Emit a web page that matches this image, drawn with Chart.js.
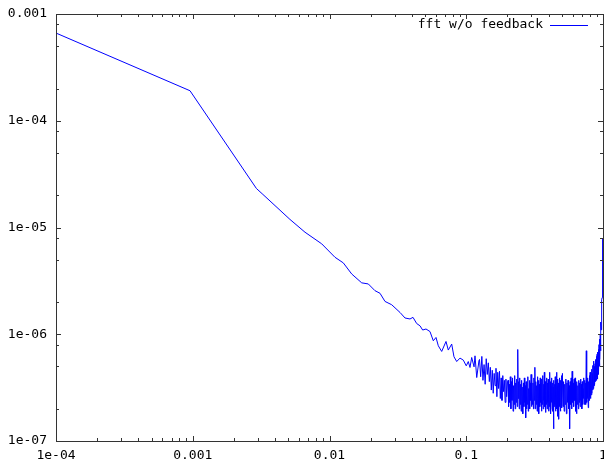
<!DOCTYPE html>
<html>
<head>
<meta charset="utf-8">
<script src="https://cdn.jsdelivr.net/npm/chart.js@4"></script>
<style>
  html, body { margin: 0; padding: 0; background: #fff; }
  canvas { display: block; }
</style>
</head>
<body>
<canvas id="c" width="604" height="464"></canvas>
<script>
// ---- data ----
const seriesLabel = 'fft w/o feedback';

const lowFreq = [1e-4, 9.55e-4, 2.92e-3, 3.26e-3, 5.14e-3, 6.62e-3, 8.77e-3, 0.01097, 0.01262, 0.01453,
  0.0172, 0.01922, 0.0215, 0.0234, 0.02546, 0.0285, 0.03279, 0.03566, 0.03879, 0.04079,
  0.04341, 0.04589, 0.04802, 0.05077, 0.05431, 0.05741, 0.0601, 0.06246, 0.06614, 0.07111,
  0.07391, 0.07827, 0.08136, 0.08516, 0.09003, 0.0952, 0.1, 0.1035, 0.1065, 0.1096,
  0.114, 0.1159, 0.1193, 0.124];
const lowAmp = [6.63e-4, 1.91e-4, 2.32e-5, 2.04e-5, 1.19e-5, 9.03e-6, 7.03e-6, 5.26e-6, 4.66e-6, 3.67e-6,
  3.03e-6, 2.96e-6, 2.56e-6, 2.42e-6, 2.03e-6, 1.89e-6, 1.60e-6, 1.42e-6, 1.39e-6, 1.44e-6,
  1.26e-6, 1.20e-6, 1.095e-6, 1.12e-6, 1.06e-6, 8.69e-7, 9.33e-7, 7.80e-7, 6.90e-7, 8.56e-7,
  7.11e-7, 8.09e-7, 6.15e-7, 5.55e-7, 5.98e-7, 5.72e-7, 5.06e-7, 5.55e-7, 4.88e-7, 6.06e-7,
  4.95e-7, 6.28e-7, 3.93e-7, 5.72e-7];

const noiseFreqA = [0.125, 0.1275, 0.13, 0.1325, 0.135, 0.1375, 0.14, 0.1425, 0.145, 0.1475,
  0.15, 0.1525, 0.155, 0.1575, 0.16, 0.1625, 0.165, 0.1675, 0.17, 0.1725,
  0.175, 0.1775, 0.18, 0.1825, 0.185, 0.1875, 0.19, 0.1925, 0.195, 0.1975, 0.2];
const noiseAmpA = [5.8e-7, 4.0e-7, 6.2e-7, 3.7e-7, 5.2e-7, 3.4e-7, 5.9e-7, 4.2e-7, 5.4e-7, 3.6e-7,
  4.9e-7, 3.0e-7, 4.6e-7, 2.8e-7, 4.3e-7, 3.3e-7, 4.8e-7, 2.6e-7, 4.4e-7, 3.1e-7,
  4.5e-7, 2.5e-7, 3.9e-7, 2.4e-7, 4.1e-7, 2.9e-7, 3.7e-7, 2.3e-7, 3.8e-7, 2.6e-7, 3.5e-7];

const noiseFreqB = [0.202, 0.204, 0.206, 0.208, 0.21, 0.212, 0.214, 0.216, 0.218, 0.22,
  0.222, 0.224, 0.226, 0.228, 0.23, 0.232, 0.234, 0.236, 0.238, 0.24,
  0.242, 0.244, 0.246, 0.248, 0.25, 0.252, 0.254, 0.256, 0.258, 0.26,
  0.262, 0.264, 0.266, 0.268, 0.27, 0.272, 0.274, 0.276, 0.278, 0.28,
  0.282, 0.284, 0.286, 0.288, 0.29, 0.292, 0.294, 0.296, 0.298, 0.3];
const noiseAmpB = [3.7e-7, 2.1e-7, 3.4e-7, 2.3e-7, 4.0e-7, 2.0e-7, 3.6e-7, 2.4e-7, 3.9e-7, 1.9e-7,
  3.3e-7, 2.2e-7, 4.1e-7, 2.0e-7, 3.5e-7, 2.3e-7, 3.8e-7, 2.1e-7, 7.2e-7, 2.5e-7,
  3.6e-7, 2.0e-7, 3.9e-7, 2.2e-7, 3.4e-7, 1.9e-7, 3.7e-7, 2.4e-7, 3.2e-7, 1.8e-7,
  3.5e-7, 2.1e-7, 3.9e-7, 2.3e-7, 3.3e-7, 1.65e-7, 3.6e-7, 2.0e-7, 3.4e-7, 2.2e-7,
  4.0e-7, 1.9e-7, 3.1e-7, 2.3e-7, 3.7e-7, 2.0e-7, 3.5e-7, 2.4e-7, 4.2e-7, 2.1e-7];

const noiseFreqC = [0.3025, 0.305, 0.3075, 0.31, 0.3125, 0.315, 0.3175, 0.32, 0.3225, 0.325,
  0.3275, 0.33, 0.3325, 0.335, 0.3375, 0.34, 0.3425, 0.345, 0.3475, 0.35,
  0.3525, 0.355, 0.3575, 0.36, 0.3625, 0.365, 0.3675, 0.37, 0.3725, 0.375,
  0.3775, 0.38, 0.3825, 0.385, 0.3875, 0.39, 0.3925, 0.395, 0.3975, 0.4,
  0.4025, 0.405, 0.4075, 0.41, 0.4125, 0.415, 0.4175, 0.42, 0.4225, 0.425,
  0.4275, 0.43, 0.4325, 0.435, 0.4375, 0.44, 0.4425, 0.445, 0.4475, 0.45,
  0.4525, 0.455, 0.4575, 0.46, 0.4625, 0.465, 0.4675, 0.47, 0.4725, 0.475,
  0.4775, 0.48, 0.4825, 0.485, 0.4875, 0.49, 0.4925, 0.495, 0.4975, 0.5];
const noiseAmpC = [3.8e-7, 2.2e-7, 3.5e-7, 2.0e-7, 3.9e-7, 2.4e-7, 4.9e-7, 2.0e-7, 3.6e-7, 2.2e-7,
  3.3e-7, 1.9e-7, 4.0e-7, 2.5e-7, 3.7e-7, 1.8e-7, 3.4e-7, 2.1e-7, 3.9e-7, 2.3e-7,
  3.5e-7, 1.9e-7, 3.8e-7, 2.2e-7, 4.1e-7, 2.0e-7, 3.4e-7, 2.4e-7, 4.4e-7, 2.1e-7,
  3.6e-7, 1.85e-7, 3.3e-7, 2.2e-7, 3.9e-7, 2.0e-7, 3.5e-7, 2.3e-7, 3.8e-7, 1.9e-7,
  3.4e-7, 2.1e-7, 4.4e-7, 2.2e-7, 3.6e-7, 1.8e-7, 3.3e-7, 2.3e-7, 3.9e-7, 2.0e-7,
  3.5e-7, 1.9e-7, 3.2e-7, 1.3e-7, 3.7e-7, 2.1e-7, 3.4e-7, 2.2e-7, 4.0e-7, 1.9e-7,
  3.6e-7, 2.3e-7, 4.4e-7, 2.0e-7, 3.3e-7, 1.7e-7, 3.8e-7, 2.2e-7, 3.5e-7, 1.6e-7,
  3.4e-7, 2.1e-7, 3.9e-7, 2.3e-7, 3.6e-7, 1.9e-7, 3.7e-7, 2.2e-7, 4.1e-7, 2.05e-7];

const noiseFreqD = [0.505, 0.51, 0.515, 0.52, 0.525, 0.53, 0.535, 0.54, 0.545, 0.55,
  0.555, 0.56, 0.565, 0.57, 0.575, 0.58, 0.585, 0.59, 0.595, 0.6,
  0.605, 0.61, 0.615, 0.62, 0.625, 0.63, 0.635, 0.64, 0.645, 0.65,
  0.655, 0.66, 0.665, 0.67, 0.675, 0.68, 0.685, 0.69, 0.695, 0.7,
  0.705, 0.71, 0.715, 0.72, 0.725, 0.73, 0.735, 0.74, 0.745, 0.75,
  0.755, 0.76, 0.765, 0.77, 0.775, 0.78, 0.785, 0.79, 0.795, 0.8,
  0.805, 0.81, 0.815, 0.82, 0.825, 0.83, 0.835, 0.84, 0.845, 0.85,
  0.855, 0.86, 0.865, 0.87, 0.875, 0.88, 0.885, 0.89, 0.895, 0.9];
const noiseAmpD = [4.3e-7, 2.1e-7, 3.6e-7, 1.9e-7, 3.4e-7, 2.2e-7, 3.8e-7, 1.8e-7, 3.5e-7, 2.3e-7,
  3.7e-7, 2.0e-7, 3.3e-7, 1.3e-7, 3.6e-7, 2.2e-7, 3.9e-7, 2.0e-7, 4.5e-7, 2.3e-7,
  3.5e-7, 2.1e-7, 3.8e-7, 2.4e-7, 3.9e-7, 1.9e-7, 3.4e-7, 1.8e-7, 3.6e-7, 2.2e-7,
  3.3e-7, 2.0e-7, 3.7e-7, 2.3e-7, 3.5e-7, 2.1e-7, 3.8e-7, 2.4e-7, 3.4e-7, 2.0e-7,
  3.6e-7, 2.2e-7, 3.1e-7, 2.5e-7, 3.9e-7, 2.2e-7, 3.7e-7, 2.4e-7, 3.5e-7, 2.2e-7,
  7.0e-7, 2.3e-7, 3.8e-7, 2.5e-7, 3.9e-7, 2.05e-7, 3.6e-7, 2.4e-7, 4.1e-7, 2.6e-7,
  4.4e-7, 2.5e-7, 4.0e-7, 2.7e-7, 4.7e-7, 2.8e-7, 4.3e-7, 3.0e-7, 5.1e-7, 3.1e-7,
  5.6e-7, 3.3e-7, 5.0e-7, 3.4e-7, 5.3e-7, 3.6e-7, 5.8e-7, 3.7e-7, 6.2e-7, 4.0e-7];

const highFreq = [0.905, 0.91, 0.915, 0.92, 0.925, 0.93, 0.935, 0.94, 0.945, 0.95,
  0.955, 0.96, 0.965, 0.97, 0.975, 0.98, 0.985, 0.99, 0.995];
const highAmp  = [6.5e-7, 3.8e-7, 6.8e-7, 4.2e-7, 7.2e-7, 4.5e-7, 8.0e-7, 5.0e-7, 9.0e-7, 5.8e-7,
  1.0e-6, 7.0e-7, 1.3e-6, 1.1e-6, 1.8e-6, 2.1e-6, 2.2e-6, 4.0e-6, 7.9e-6];

const xTickValues = [1e-4, 1e-3, 1e-2, 1e-1, 1];
const xTickLabels = ['1e-04', '0.001', '0.01', '0.1', '1'];
const yTickValues = [1e-7, 1e-6, 1e-5, 1e-4, 1e-3];
const yTickLabels = ['1e-07', '1e-06', '1e-05', '1e-04', '0.001'];
const xMinorMult = [2, 3, 4, 5, 6, 7, 8, 9];
const yMinorMult = [2, 5, 8];

// ---- build points ----
const freqs = [].concat(lowFreq, noiseFreqA, noiseFreqB, noiseFreqC, noiseFreqD, highFreq);
const amps  = [].concat(lowAmp, noiseAmpA, noiseAmpB, noiseAmpC, noiseAmpD, highAmp);
const points = freqs.map((f, i) => ({ x: f, y: amps[i] }));

const FONT = { family: '"DejaVu Sans Mono", "Liberation Mono", monospace', size: 13 };
const AXIS_COLOR = '#333';
const LINE_COLOR = '#0000ff';

const framePlugin = {
  id: 'frame',
  afterDraw(chart) {
    const { ctx, chartArea: a, scales } = chart;
    const xs = scales.x, ys = scales.y;
    ctx.save();
    ctx.strokeStyle = AXIS_COLOR;
    ctx.lineWidth = 1;
    ctx.strokeRect(a.left + 0.5, a.top + 0.5, a.right - a.left, a.bottom - a.top);
    ctx.beginPath();
    const major = 5, minor = 3;
    for (let d = 0; d < xTickValues.length; d++) {
      const v = xTickValues[d];
      const px = Math.round(xs.getPixelForValue(v)) + 0.5;
      ctx.moveTo(px, a.bottom); ctx.lineTo(px, a.bottom - major);
      ctx.moveTo(px, a.top); ctx.lineTo(px, a.top + major);
      if (d < xTickValues.length - 1) {
        for (const m of xMinorMult) {
          const p = Math.round(xs.getPixelForValue(v * m)) + 0.5;
          ctx.moveTo(p, a.bottom); ctx.lineTo(p, a.bottom - minor);
          ctx.moveTo(p, a.top); ctx.lineTo(p, a.top + minor);
        }
      }
    }
    for (let d = 0; d < yTickValues.length; d++) {
      const v = yTickValues[d];
      const py = Math.round(ys.getPixelForValue(v)) + 0.5;
      ctx.moveTo(a.left, py); ctx.lineTo(a.left + major, py);
      ctx.moveTo(a.right, py); ctx.lineTo(a.right - major, py);
      if (d < yTickValues.length - 1) {
        for (const m of yMinorMult) {
          const p = Math.round(ys.getPixelForValue(v * m)) + 0.5;
          ctx.moveTo(a.left, p); ctx.lineTo(a.left + minor, p);
          ctx.moveTo(a.right, p); ctx.lineTo(a.right - minor, p);
        }
      }
    }
    ctx.stroke();
    // legend
    ctx.font = FONT.size + 'px ' + FONT.family;
    ctx.fillStyle = '#000';
    ctx.textAlign = 'right';
    ctx.textBaseline = 'middle';
    ctx.fillText(seriesLabel, 543, 25);
    ctx.strokeStyle = LINE_COLOR;
    ctx.beginPath();
    ctx.moveTo(550, 25.5); ctx.lineTo(588, 25.5);
    ctx.stroke();
    ctx.restore();
  }
};

new Chart(document.getElementById('c'), {
  type: 'line',
  data: {
    datasets: [{
      label: seriesLabel,
      data: points,
      borderColor: LINE_COLOR,
      borderWidth: 1,
      pointRadius: 0,
      fill: false,
      tension: 0
    }]
  },
  options: {
    responsive: false,
    animation: false,
    layout: { padding: { top: 14, right: 1, left: 0, bottom: 0 } },
    plugins: { legend: { display: false }, tooltip: { enabled: false } },
    scales: {
      x: {
        type: 'logarithmic',
        min: 1e-4, max: 1,
        grid: { display: false, drawTicks: false },
        border: { display: false },
        afterBuildTicks: s => { s.ticks = xTickValues.map(v => ({ value: v })); },
        afterFit: s => { s.height = 23; s.paddingLeft = 0; s.paddingRight = 0; },
        ticks: {
          autoSkip: false, maxRotation: 0, minRotation: 0,
          padding: 7, color: '#000', font: FONT,
          callback: (v, i) => xTickLabels[i]
        }
      },
      y: {
        type: 'logarithmic',
        min: 1e-7, max: 1e-3,
        grid: { display: false, drawTicks: false },
        border: { display: false },
        afterBuildTicks: s => { s.ticks = yTickValues.map(v => ({ value: v })); },
        afterFit: s => { s.width = 56; s.paddingTop = 0; s.paddingBottom = 0; },
        ticks: {
          autoSkip: false,
          padding: 9, color: '#000', font: FONT,
          callback: (v, i) => yTickLabels[i]
        }
      }
    }
  },
  plugins: [framePlugin]
});
</script>
</body>
</html>
